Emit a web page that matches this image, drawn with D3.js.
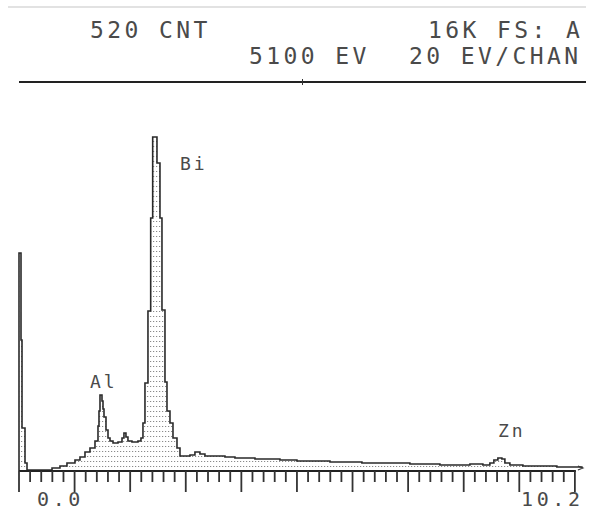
<!DOCTYPE html>
<html>
<head>
<meta charset="utf-8">
<script src="https://cdn.jsdelivr.net/npm/d3@7"></script>
<style>
  body { margin: 0; background: #fff; }
  svg { display: block; }
  text { font-family: "DejaVu Sans Mono", monospace; fill: #4a4a4a; }
</style>
</head>
<body>
<div class="chart"></div>
<script>
const SVG_WIDTH = 592;
const SVG_HEIGHT = 513;

// spectrum: energy (keV) and counts (arbitrary units)
const energies = [
    0.00, 0.036, 0.054, 0.108, 0.144, 0.594, 0.737, 0.863, 1.007, 1.097,
    1.187, 1.277, 1.367, 1.421, 1.439, 1.457, 1.493, 1.511, 1.529, 1.565,
    1.601, 1.637, 1.691, 1.781, 1.853, 1.888, 1.924, 1.960, 2.032, 2.140,
    2.194, 2.230, 2.266, 2.320, 2.369, 2.405, 2.482, 2.536, 2.572, 2.626,
    2.662, 2.716, 2.770, 2.842, 2.896, 3.076, 3.165, 3.255, 3.345, 3.705,
    3.885, 4.065, 4.245, 4.424, 4.694, 5.000, 5.288, 5.594, 5.881, 6.169,
    6.655, 7.032, 7.266, 7.572, 7.878, 8.112, 8.345, 8.471, 8.543, 8.615,
    8.687, 8.741, 8.831, 9.065, 9.371, 9.676, 9.910, 10.126
];
const counts = [
    218, 131, 43, 8, 1, 3, 5, 8, 11, 14,
    19, 23, 30, 45, 60, 76, 70, 62, 54, 41,
    33, 30, 28, 29, 33, 38, 34, 30, 29, 30,
    33, 48, 88, 160, 253, 334, 308, 253, 161, 89,
    60, 48, 33, 23, 15, 16, 19, 17, 15, 14,
    13, 13, 12, 12, 11, 10, 10, 9, 9, 8,
    8, 7, 7, 6, 6, 7, 6, 8, 11, 13,
    12, 8, 6, 5, 5, 4, 4, 3
];

const headerTop = ["520 CNT", "16K FS: A"];
const headerBottom = ["5100 EV", "20 EV/CHAN"];
const cursorEnergy = 5.1;
const axisLabels = ["0.0", "10.2"];
const peakNames = ["Bi", "Al", "Zn"];

const svg = d3.select(".chart").append("svg")
    .attr("width", SVG_WIDTH)
    .attr("height", SVG_HEIGHT);

const x = d3.scaleLinear().domain([0, 10.2]).range([19, 586]);
const y = d3.scaleLinear().domain([0, 350]).range([471, 121]);

// dotted hatching used inside the spectrum
const defs = svg.append("defs");
const pat = defs.append("pattern")
    .attr("id", "dots")
    .attr("patternUnits", "userSpaceOnUse")
    .attr("width", 3)
    .attr("height", 5);
pat.append("rect")
    .attr("x", 0).attr("y", 1)
    .attr("width", 1.2).attr("height", 1)
    .attr("fill", "#8a8a8a");

// faint scan line at the very top
svg.append("line")
    .attr("x1", 8).attr("x2", 586)
    .attr("y1", 7).attr("y2", 7)
    .attr("stroke", "#d8d8d8")
    .attr("stroke-width", 1.5);

function headerText(tx, ty, s) {
    svg.append("text").attr("x", tx).attr("y", ty)
        .style("font-size", "23px").style("letter-spacing", "3.4px")
        .text(s);
}

headerText(90, 38, headerTop[0]);
headerText(428, 38, headerTop[1]);
headerText(249, 64, headerBottom[0]);
headerText(409, 64, headerBottom[1]);

// header rule with cursor mark
svg.append("line")
    .attr("x1", x(0)).attr("x2", x(10.2))
    .attr("y1", 82).attr("y2", 82)
    .attr("stroke", "#222")
    .attr("stroke-width", 2);
svg.append("line")
    .attr("x1", x(cursorEnergy)).attr("x2", x(cursorEnergy))
    .attr("y1", 79).attr("y2", 85)
    .attr("stroke", "#333")
    .attr("stroke-width", 1);

const data = energies.map((e, i) => ({ e: e, c: counts[i] }));

const area = d3.area()
    .x(d => x(d.e))
    .y0(y(0))
    .y1(d => y(d.c))
    .curve(d3.curveStepAfter);

const line = d3.line()
    .x(d => x(d.e))
    .y(d => y(d.c))
    .curve(d3.curveStepAfter);

svg.append("path")
    .datum(data)
    .attr("d", area)
    .attr("fill", "url(#dots)");

// outline starting from the baseline
const outline = [{ e: 0, c: 0 }].concat(data);
svg.append("path")
    .datum(outline)
    .attr("d", line)
    .attr("fill", "none")
    .attr("stroke", "#2a2a2a")
    .attr("stroke-width", 1.6)
    .attr("stroke-linejoin", "miter");

// small end marker
const last = data[data.length - 1];
svg.append("path")
    .attr("d", `M${x(last.e) - 4},${y(last.c) - 2}L${x(last.e) + 1},${y(last.c)}L${x(last.e) - 4},${y(last.c) + 2}`)
    .attr("fill", "none")
    .attr("stroke", "#333")
    .attr("stroke-width", 1.2);

// energy axis
const axisG = svg.append("g");
axisG.append("line")
    .attr("x1", x(0)).attr("x2", x(10) + 1)
    .attr("y1", y(0)).attr("y2", y(0))
    .attr("stroke", "#222")
    .attr("stroke-width", 2);

const tickVals = d3.range(0, 51).map(i => i / 5);
axisG.selectAll(".tick")
    .data(tickVals)
    .join("line")
    .attr("class", "tick")
    .attr("x1", d => x(d)).attr("x2", d => x(d))
    .attr("y1", y(0))
    .attr("y2", (d, i) => i % 5 === 0 ? y(0) + 21 : y(0) + 11)
    .attr("stroke", "#333")
    .attr("stroke-width", 1.8);

axisG.append("text").attr("x", 37).attr("y", 506)
    .style("font-size", "20px").style("letter-spacing", "3.6px")
    .text(axisLabels[0]);
axisG.append("text").attr("x", 521).attr("y", 506)
    .style("font-size", "20px").style("letter-spacing", "3.6px")
    .text(axisLabels[1]);

// element labels
const labelPos = [[180, 170], [90, 388], [498, 437]];
peakNames.forEach((name, i) => {
    svg.append("text")
        .attr("x", labelPos[i][0])
        .attr("y", labelPos[i][1])
        .style("font-size", "18px")
        .style("letter-spacing", "3px")
        .text(name);
});
</script>
</body>
</html>
